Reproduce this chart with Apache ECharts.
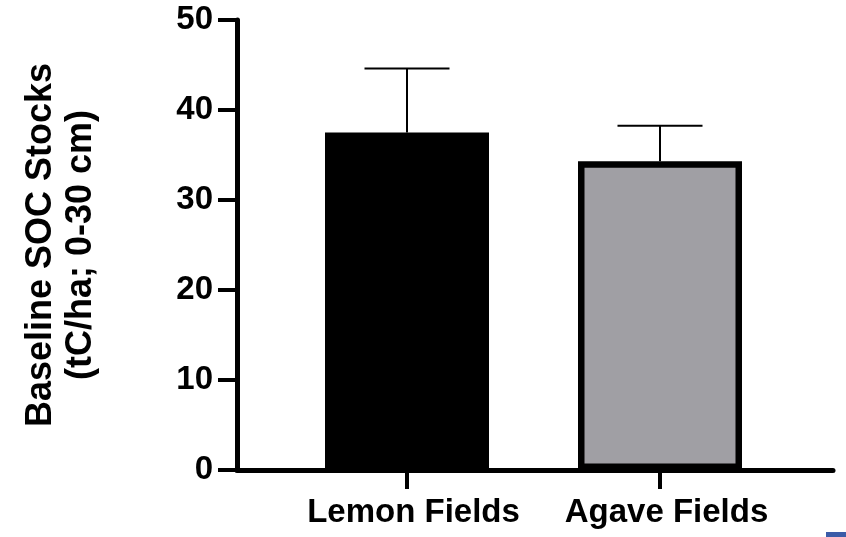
<!DOCTYPE html>
<html>
<head>
<meta charset="utf-8">
<script src="https://cdn.jsdelivr.net/npm/echarts@6/dist/echarts.min.js"></script>
<style>
  html, body { margin: 0; padding: 0; background: #ffffff; }
  #chart { width: 846px; height: 537px; }
</style>
</head>
<body>
<div id="chart"></div>
<script>
// ---- data ----
const categories = ['Lemon Fields', 'Agave Fields'];
const meanValues = [37.5, 34.3];
const errorUpper = [44.6, 38.25];
const barColors = ['#000000', '#a09fa4'];
const yMin = 0, yMax = 50, yInterval = 10;
const yTitle = 'Baseline SOC Stocks\n(tC/ha; 0-30 cm)';

const FONT = '"Liberation Sans", Arial, Helvetica, sans-serif';
const chart = echarts.init(document.getElementById('chart'), null, { renderer: 'canvas' });

const gridTop = 20, gridBottom = 67;

const option = {
  animation: false,
  backgroundColor: '#ffffff',
  grid: [
    { left: 237, right: 13, top: gridTop, bottom: gridBottom },
    { left: 280.5, right: 59.5, top: gridTop, bottom: gridBottom }
  ],
  xAxis: [
    {
      gridIndex: 0, type: 'value', min: 0, max: 1,
      axisLine: { show: true, onZero: false, lineStyle: { color: '#000', width: 5 } },
      axisTick: { show: false }, axisLabel: { show: false }, splitLine: { show: false }
    },
    {
      gridIndex: 1, type: 'category', data: categories,
      axisLine: { show: false },
      axisTick: { show: true, alignWithLabel: true, length: 19, lineStyle: { color: '#000', width: 4 } },
      axisLabel: {
        show: true, interval: 0, hideOverlap: false, margin: 26, color: '#000',
        fontFamily: FONT, fontWeight: 'bold', fontSize: 33,
        padding: [0, 0, 0, 13]
      },
      splitLine: { show: false }
    }
  ],
  yAxis: [
    {
      gridIndex: 0, type: 'value', min: yMin, max: yMax, interval: yInterval,
      axisLine: { show: true, lineStyle: { color: '#000', width: 5 } },
      axisTick: { show: true, length: 19, lineStyle: { color: '#000', width: 4 } },
      axisLabel: { margin: 24, color: '#000', fontFamily: FONT, fontWeight: 'bold', fontSize: 33 },
      splitLine: { show: false },
      name: yTitle,
      nameLocation: 'middle',
      nameGap: 136,
      nameTextStyle: { color: '#000', fontFamily: FONT, fontWeight: 'bold', fontSize: 36, lineHeight: 40, align: 'center' }
    },
    {
      gridIndex: 1, type: 'value', min: yMin, max: yMax, interval: yInterval, show: false
    }
  ],
  series: [
    {
      type: 'custom',
      xAxisIndex: 1, yAxisIndex: 1,
      z: 1,
      data: categories.map((c, i) => [i, meanValues[i], errorUpper[i]]),
      renderItem: function (params, api) {
        const idx = api.value(0);
        const base = api.coord([idx, api.value(1)]);
        const top = api.coord([idx, api.value(2)]);
        const half = api.size([1, 0])[0] * 0.168;
        const style = { stroke: '#000', lineWidth: 2 };
        return {
          type: 'group',
          children: [
            { type: 'line', shape: { x1: base[0], y1: base[1], x2: top[0], y2: top[1] }, style: style },
            { type: 'line', shape: { x1: top[0] - half, y1: top[1], x2: top[0] + half, y2: top[1] }, style: style }
          ]
        };
      }
    },
    {
      type: 'bar',
      xAxisIndex: 1, yAxisIndex: 1,
      z: 2,
      barWidth: 164,
      data: meanValues.map((v, i) => ({
        value: v,
        itemStyle: { color: barColors[i], borderColor: '#000', borderWidth: 6.5 }
      }))
    }
  ],
  graphic: [
    { type: 'rect', shape: { x: 826, y: 532, width: 20, height: 5 }, style: { fill: '#3b5ca8' }, z: 100 }
  ]
};

chart.setOption(option);
</script>
</body>
</html>
